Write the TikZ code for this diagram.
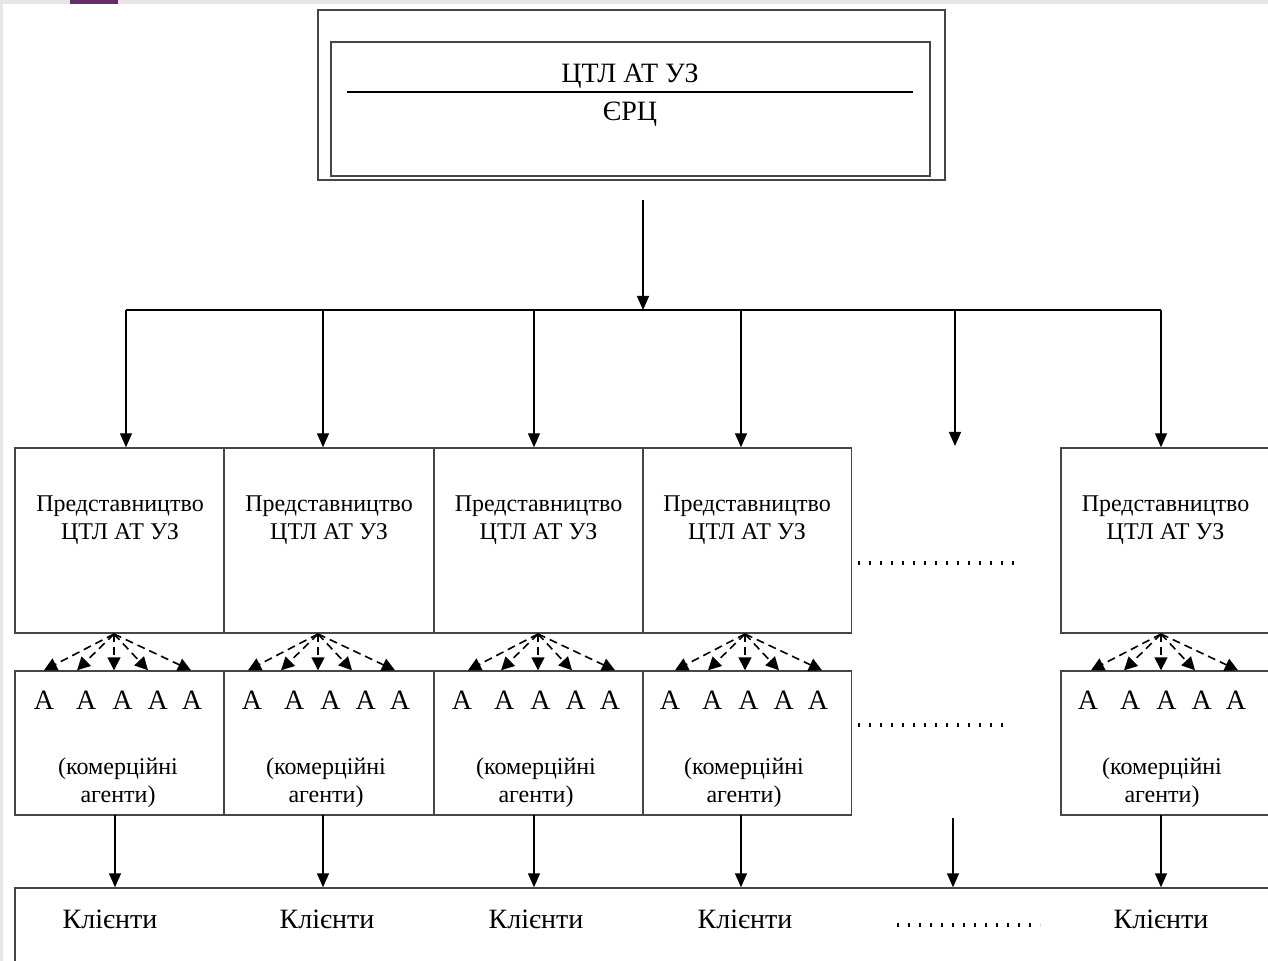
\documentclass[tikz,border=0pt]{standalone}
\usepackage{fontspec}
\setmainfont{Liberation Serif}
\usetikzlibrary{arrows.meta,calc}

\definecolor{boxgray}{RGB}{70,70,70}
\definecolor{bggray}{RGB}{232,228,234}
\definecolor{tabpurple}{RGB}{104,44,100}

\newcommand{\agentrow}{А\hspace{11pt}А\hspace{8pt}А\hspace{7.5pt}А\hspace{7pt}А}

\begin{document}
\begin{tikzpicture}[x=0.5pt,y=-0.5pt,
  box/.style={draw=boxgray, line width=0.7pt, minimum width=104.5pt, minimum height=92.5pt, inner sep=0pt},
  agbox/.style={box, minimum height=72pt},
  txt/.style={align=center, inner sep=0pt, font=\fontsize{12}{14}\selectfont},
  big/.style={inner sep=0pt, font=\fontsize{14}{16}\selectfont},
  arr/.style={-{Triangle[length=7pt,width=6pt]}, line width=0.7pt},
  darr/.style={-{Triangle[length=6.5pt,width=6.5pt]}, line width=0.8pt, dash pattern=on 4pt off 2.5pt},
  dots/.style={line width=1.6pt, dash pattern=on 1.2pt off 4.3pt}]
\clip (0,0) rectangle (1268,961);
% background
\fill[bggray] (0,0) rectangle (1268,961);
\fill[white] (3,4) rectangle (1268,961);
\fill[tabpurple] (70,0) rectangle (118,4);

% Top
\node[draw=boxgray, line width=0.7pt, minimum width=313.5pt, minimum height=85pt] (ext) at (631.5,95) {};
\node[draw=boxgray, line width=0.7pt, minimum width=299.5pt, minimum height=67pt] (erc) at (630.5,109) {};
\node[big] (tname) at (630,76) {ЦТЛ АТ УЗ};
\node[big] (ename) at (630,114) {ЄРЦ};
\coordinate (la) at (347,92);
\coordinate (lb) at (913,92);
\draw[line width=1pt] (la) -- (lb);

% bus
\coordinate (top) at (643,200);
\coordinate (bus) at (643,310);
\coordinate (d1) at (126,310);
\coordinate (d2) at (323,310);
\coordinate (d3) at (534,310);
\coordinate (d4) at (741,310);
\coordinate (d5) at (955,310);
\coordinate (d6) at (1161,310);
\coordinate (e5) at (955,446);
\draw[arr] (top) -- (bus);
\draw[line width=0.7pt] (d1) -- (d6);

% representative offices
\node[box] (r1) at (119.5,540.5) {};
\node[box] (r2) at (329,540.5) {};
\node[box] (r3) at (538.5,540.5) {};
\node[box] (r4) at (747,540.5) {};
\node[box] (r6) at (1165.5,540.5) {};
\node[txt] (rt1) at (120,520) {Представництво\\ЦТЛ АТ УЗ};
\node[txt] (rt2) at (329,520) {Представництво\\ЦТЛ АТ УЗ};
\node[txt] (rt3) at (538.5,520) {Представництво\\ЦТЛ АТ УЗ};
\node[txt] (rt4) at (747,520) {Представництво\\ЦТЛ АТ УЗ};
\node[txt] (rt6) at (1165.5,520) {Представництво\\ЦТЛ АТ УЗ};
\draw[arr] (d1) -- (d1 |- r1.north);
\draw[arr] (d2) -- (d2 |- r2.north);
\draw[arr] (d3) -- (d3 |- r3.north);
\draw[arr] (d4) -- (d4 |- r4.north);
\draw[arr] (d5) -- (e5);
\draw[arr] (d6) -- (d6 |- r6.north);
\coordinate (p1) at (858,563);
\coordinate (p2) at (1015,563);
\draw[dots] (p1) -- (p2);

% agents
\node[agbox] (a1) at (119.5,743) {};
\node[agbox] (a2) at (329,743) {};
\node[agbox] (a3) at (538.5,743) {};
\node[agbox] (a4) at (747,743) {};
\node[agbox] (a6) at (1165.5,743) {};
\node[big] (ar1) at (118,700) {\agentrow};
\node[big] (ar2) at (326,700) {\agentrow};
\node[big] (ar3) at (536,700) {\agentrow};
\node[big] (ar4) at (744,700) {\agentrow};
\node[big] (ar6) at (1162,700) {\agentrow};
\node[txt] (at1) at (118,783) {(комерційні\\агенти)};
\node[txt] (at2) at (326,783) {(комерційні\\агенти)};
\node[txt] (at3) at (536,783) {(комерційні\\агенти)};
\node[txt] (at4) at (744,783) {(комерційні\\агенти)};
\node[txt] (at6) at (1162,783) {(комерційні\\агенти)};
\coordinate (q1) at (858,725);
\coordinate (q2) at (1005,725);
\draw[dots] (q1) -- (q2);

% fans
\coordinate (s1) at (114,634);
\coordinate (s2) at (318,634);
\coordinate (s3) at (538,634);
\coordinate (s4) at (745,634);
\coordinate (s6) at (1161,634);
\foreach \dx in {-70,-37,0,34,77} \draw[darr] (s1) -- ($(s1 |- a1.north)+(\dx,0)$);
\foreach \dx in {-70,-37,0,34,77} \draw[darr] (s2) -- ($(s2 |- a2.north)+(\dx,0)$);
\foreach \dx in {-70,-37,0,34,77} \draw[darr] (s3) -- ($(s3 |- a3.north)+(\dx,0)$);
\foreach \dx in {-70,-37,0,34,77} \draw[darr] (s4) -- ($(s4 |- a4.north)+(\dx,0)$);
\foreach \dx in {-70,-37,0,34,77} \draw[darr] (s6) -- ($(s6 |- a6.north)+(\dx,0)$);

% clients
\node[draw=boxgray, line width=0.7pt, minimum width=640pt, minimum height=60pt, inner sep=0pt] (cl) at (655,948) {};
\coordinate (c1) at (115,815);
\coordinate (c2) at (323,815);
\coordinate (c3) at (534,815);
\coordinate (c4) at (741,815);
\coordinate (c5) at (953,818);
\coordinate (c6) at (1161,815);
\draw[arr] (c1) -- (c1 |- cl.north);
\draw[arr] (c2) -- (c2 |- cl.north);
\draw[arr] (c3) -- (c3 |- cl.north);
\draw[arr] (c4) -- (c4 |- cl.north);
\draw[arr] (c5) -- (c5 |- cl.north);
\draw[arr] (c6) -- (c6 |- cl.north);
\node[big] (k1) at (110,919) {Клієнти};
\node[big] (k2) at (327,919) {Клієнти};
\node[big] (k3) at (536,919) {Клієнти};
\node[big] (k4) at (745,919) {Клієнти};
\node[big] (k6) at (1161,919) {Клієнти};
\coordinate (m1) at (897,925);
\coordinate (m2) at (1040,925);
\draw[dots] (m1) -- (m2);

\end{tikzpicture}
\end{document}
